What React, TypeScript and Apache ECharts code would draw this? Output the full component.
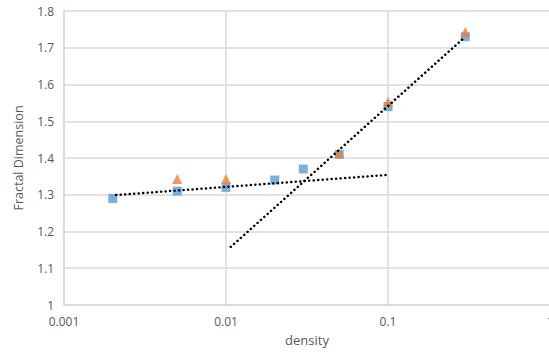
import React, { useEffect, useRef } from "react";
import * as echarts from "echarts";

const blueX = [0.002, 0.005, 0.01, 0.02, 0.03, 0.05, 0.1, 0.3];
const blueY = [1.29, 1.31, 1.32, 1.34, 1.37, 1.41, 1.54, 1.73];
const orangeX = [0.005, 0.01, 0.05, 0.1, 0.3];
const orangeY = [1.34, 1.34, 1.41, 1.55, 1.74];
const trend1X = [0.0021, 0.1];
const trend1Y = [1.299, 1.354];
const trend2X = [0.0107, 0.3];
const trend2Y = [1.158, 1.73];

const zip = (xs: number[], ys: number[]) => xs.map((x, i) => [x, ys[i]]);

const FONT = "Open Sans";
const TXT = "#595959";

export default function App() {
  const ref = useRef<HTMLDivElement>(null);
  useEffect(() => {
    const chart = echarts.init(ref.current!, null, { renderer: "svg" });
    const dotted = {
      color: "#000",
      width: 2.5,
      type: [0.1, 4.4] as number[],
      cap: "round" as const,
    };
    chart.setOption({
      animation: false,
      grid: {
        left: 64,
        top: 11,
        width: 486,
        height: 294,
        containLabel: false,
        outerBoundsMode: "none",
      },
      xAxis: {
        type: "log",
        logBase: 10,
        min: 0.001,
        max: 1,
        name: "density",
        nameLocation: "middle",
        nameGap: 28,
        nameTextStyle: { color: TXT, fontFamily: FONT, fontSize: 13 },
        axisLine: { show: true, lineStyle: { color: "#d9d9d9", width: 1.5 } },
        axisTick: { show: false },
        minorTick: { show: false },
        axisLabel: {
          color: TXT,
          fontFamily: FONT,
          fontSize: 12,
          margin: 10,
          hideOverlap: false,
          formatter: (v: number) => String(Number(v.toPrecision(1))),
        },
        splitLine: { show: true, lineStyle: { color: "#d9d9d9", width: 1.5 } },
      },
      yAxis: {
        type: "value",
        min: 1,
        max: 1.8,
        interval: 0.1,
        name: "Fractal Dimension",
        nameLocation: "middle",
        nameGap: 39,
        nameTextStyle: { color: TXT, fontFamily: FONT, fontSize: 12.5 },
        axisLine: { show: true, lineStyle: { color: "#d9d9d9", width: 1.5 } },
        axisTick: { show: false },
        axisLabel: {
          color: TXT,
          fontFamily: FONT,
          fontSize: 12,
          margin: 10,
          formatter: (v: number) => String(Number(v.toFixed(1))),
        },
        splitLine: { show: true, lineStyle: { color: "#d9d9d9", width: 1.5 } },
      },
      series: [
        {
          type: "scatter",
          data: zip(blueX, blueY),
          symbol: "rect",
          symbolSize: 9,
          itemStyle: { color: "#5B9BD5" },
          z: 2,
        },
        {
          type: "scatter",
          data: zip(orangeX, orangeY),
          symbol: "triangle",
          symbolSize: [10, 10],
          symbolOffset: [0, -1],
          itemStyle: { color: "#ED7D31" },
          z: 3,
        },
        {
          type: "line",
          data: zip(trend1X, trend1Y),
          symbol: "none",
          lineStyle: dotted,
          z: 4,
        },
        {
          type: "line",
          data: zip(trend2X, trend2Y),
          symbol: "none",
          lineStyle: dotted,
          z: 4,
        },
      ],
    });
    return () => chart.dispose();
  }, []);
  return (
    <div
      ref={ref}
      style={{ position: "fixed", left: 0, top: 0, width: 549, height: 361, background: "#fff" }}
    />
  );
}
